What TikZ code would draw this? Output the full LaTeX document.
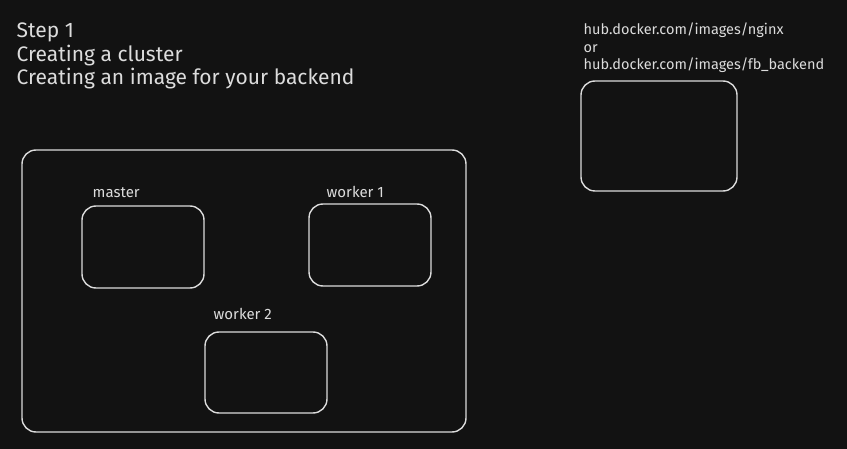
\documentclass[tikz,border=0pt]{standalone}
\usepackage{fontspec}
\setmainfont{Fira Sans}
\usetikzlibrary{positioning}
\definecolor{canvas}{HTML}{121212}
\definecolor{chalk}{HTML}{DCDCDC}

\begin{document}
\begin{tikzpicture}[x=1pt,y=-1pt, line width=1.4pt,
    box/.style={draw=chalk, rounded corners=14pt, inner sep=0pt},
    caption/.style={text=chalk, font=\fontsize{15}{17}\selectfont, inner sep=0pt, anchor=base west},
    heading/.style={text=chalk, font=\fontsize{21}{23.5}\selectfont, inner sep=0pt, align=left, anchor=base west}]
    \fill[canvas] (0,0) rectangle (847,449);
    \useasboundingbox (0,0) rectangle (847,449);

    \node[heading] (title) at (16,85) {Step 1\\Creating a cluster\\Creating an image for your backend};

    \node[box, minimum width=444pt, minimum height=282pt] (cluster) at (244,291) {};
    \node[box, minimum width=122pt, minimum height=82pt] (master) at (143,247) {};
    \node[box, minimum width=122pt, minimum height=82pt] (worker1) at (370,245) {};
    \node[box, minimum width=122pt, minimum height=81pt] (worker2) at (266,372.5) {};
    \node[box, minimum width=156pt, minimum height=110pt] (registry) at (659,136) {};

    \node[caption] (masterlbl) at (92,198) {master};
    \node[caption] (worker1lbl) at (326,198) {worker 1};
    \node[caption] (worker2lbl) at (213,320) {worker 2};

    \node[caption, align=left, font=\fontsize{14.5}{17.5}\selectfont] (registrylbl) at (583,70)
        {hub.docker.com/images/nginx\\or\\hub.docker.com/images/fb\_backend};
\end{tikzpicture}
\end{document}
